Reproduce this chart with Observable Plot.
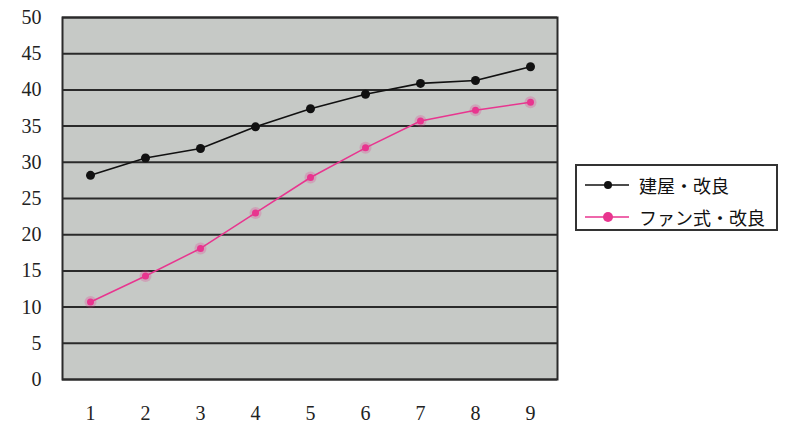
<!DOCTYPE html>
<html><head><meta charset="utf-8">
<script src="https://cdn.jsdelivr.net/npm/d3@7"></script>
<script src="https://cdn.jsdelivr.net/npm/@observablehq/plot@0.6"></script>
<style>
body{margin:0;background:#fff;}
#wrap{position:relative;width:800px;height:440px;}
#legend{position:absolute;left:575px;top:164px;width:203px;height:67px;border:2px solid #333;background:#fff;box-sizing:border-box;font-family:"Noto Sans CJK JP";font-size:18px;color:#111;}
.row{position:absolute;left:8px;display:flex;align-items:center;gap:10px;}
</style></head>
<body><div id="wrap"><div id="legend"></div></div>
<script>
const categories = [1,2,3,4,5,6,7,8,9];
const seriesNames = ["建屋・改良", "ファン式・改良"];
const seriesA = [28.2, 30.6, 31.9, 34.9, 37.4, 39.4, 40.9, 41.3, 43.2];
const seriesB = [10.7, 14.3, 18.1, 23.0, 27.9, 32.0, 35.7, 37.2, 38.3];
const colors = ["#111111", "#e8358f"];
const yTicks = [0,5,10,15,20,25,30,35,40,45,50];

const data = [];
categories.forEach((c,i)=>{
  data.push({x:c, y:seriesA[i], s:seriesNames[0]});
  data.push({x:c, y:seriesB[i], s:seriesNames[1]});
});
const dA = data.filter(d=>d.s===seriesNames[0]);
const dB = data.filter(d=>d.s===seriesNames[1]);

const chart = Plot.plot({
  width: 800, height: 440,
  marginLeft: 62, marginRight: 243, marginTop: 17, marginBottom: 61,
  style: {fontFamily: "Liberation Serif", fontSize: "20px", color: "#222", background: "transparent"},
  x: {type: "point", domain: categories, padding: 0.5, label: null},
  y: {domain: [0,50], label: null},
  marks: [
    Plot.frame({fill: "#c6c9c6"}),
    Plot.gridY(yTicks, {stroke: "#2a2a2a", strokeOpacity: 1, strokeWidth: 2}),
    Plot.axisY(yTicks, {tickSize: 0, tickPadding: 21, fontSize: 20}),
    Plot.axisX(categories, {tickSize: 0, tickPadding: 26, fontSize: 20}),
    Plot.frame({stroke: "#2a2a2a", strokeWidth: 2}),
    Plot.line(dB, {x: "x", y: "y", stroke: colors[1], strokeWidth: 1.5}),
    Plot.dot(dB, {x: "x", y: "y", fill: colors[1], r: 6, fillOpacity: 0.25}),
    Plot.dot(dB, {x: "x", y: "y", fill: colors[1], r: 3.5}),
    Plot.line(dA, {x: "x", y: "y", stroke: colors[0], strokeWidth: 1.6}),
    Plot.dot(dA, {x: "x", y: "y", fill: colors[0], r: 4.5})
  ]
});
document.getElementById("wrap").prepend(chart);

const lg = document.getElementById("legend");
seriesNames.forEach((n,i)=>{
  const row = document.createElement("div");
  row.className = "row";
  row.style.top = (i===0 ? 6 : 38) + "px";
  row.innerHTML = `<svg width="44" height="16"><line x1="0" y1="8" x2="44" y2="8" stroke="${colors[i]}" stroke-width="1.6"/><circle cx="23" cy="8" r="${i===0?4:5}" fill="${colors[i]}"/></svg><span>${n}</span>`;
  lg.appendChild(row);
});
</script></body></html>
